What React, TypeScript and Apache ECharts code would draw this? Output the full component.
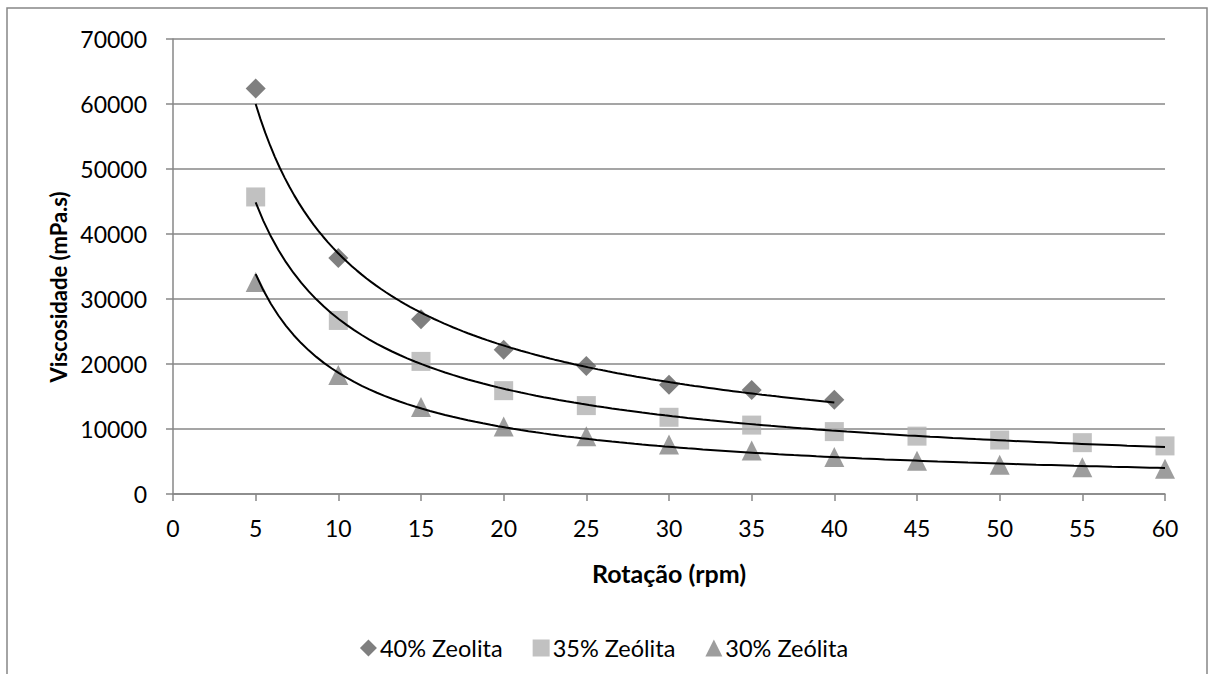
import React, { useEffect, useRef } from "react";
import * as echarts from "echarts";

const rpm = [5, 10, 15, 20, 25, 30, 35, 40, 45, 50, 55, 60];
const zeo40 = [62400, 36300, 26900, 22200, 19700, 16800, 16000, 14500];
const zeo35 = [45700, 26700, 20400, 15900, 13600, 11800, 10600, 9600, 8900, 8300, 7900, 7400];
const zeo30 = [32600, 18300, 13400, 10400, 8900, 7600, 6700, 5700, 5100, 4500, 4100, 3900];
const seriesNames = ["40% Zeolita", "35% Zeólita", "30% Zeólita"];
const xTitle = "Rotação (rpm)";
const yTitle = "Viscosidade (mPa.s)";

// power-law trendline (least squares on log-log), like the spreadsheet's trendline
function powerFit(xs: number[], ys: number[]) {
  const n = ys.length;
  const lx = xs.slice(0, n).map(Math.log);
  const ly = ys.map(Math.log);
  const mx = lx.reduce((a, b) => a + b, 0) / n;
  const my = ly.reduce((a, b) => a + b, 0) / n;
  let sxy = 0, sxx = 0;
  for (let i = 0; i < n; i++) {
    sxy += (lx[i] - mx) * (ly[i] - my);
    sxx += (lx[i] - mx) * (lx[i] - mx);
  }
  const b = sxy / sxx;
  const a = Math.exp(my - b * mx);
  const x0 = xs[0], x1 = xs[n - 1];
  const pts: number[][] = [];
  const steps = 120;
  for (let i = 0; i <= steps; i++) {
    const x = x0 + ((x1 - x0) * i) / steps;
    pts.push([x, a * Math.pow(x, b)]);
  }
  return pts;
}

const FONT = "Lato";

export default function App() {
  const ref = useRef<HTMLDivElement>(null);
  useEffect(() => {
    if (!ref.current) return;
    const chart = echarts.init(ref.current, undefined, { renderer: "svg" });
    const pair = (vals: number[]) => vals.map((v, i) => [rpm[i], v]);
    const trend = (vals: number[]) => ({
      type: "line",
      data: powerFit(rpm, vals),
      showSymbol: false,
      symbol: "none",
      smooth: false,
      lineStyle: { color: "#000", width: 2 },
      silent: true,
      z: 3,
    });
    chart.setOption({
      animation: false,
      backgroundColor: "#fff",
      textStyle: { fontFamily: FONT },
      grid: { left: 173, right: 43, top: 39, bottom: 180 },
      xAxis: {
        type: "value",
        min: 0,
        max: 60,
        interval: 5,
        axisLine: { show: true, lineStyle: { color: "#878787", width: 1.5 } },
        axisTick: { show: true, inside: false, length: 7, lineStyle: { color: "#878787", width: 1.5 } },
        splitLine: { show: false },
        axisLabel: { color: "#000", fontSize: 23, fontFamily: FONT, margin: 22, formatter: (v: number) => String(v) },
      },
      yAxis: {
        type: "value",
        min: 0,
        max: 70000,
        interval: 10000,
        axisLine: { show: true, lineStyle: { color: "#878787", width: 1.5 } },
        axisTick: { show: true, inside: false, length: 7, lineStyle: { color: "#878787", width: 1.5 } },
        splitLine: { show: true, lineStyle: { color: "#878787", width: 1.5 } },
        axisLabel: { color: "#000", fontSize: 23, fontFamily: FONT, margin: 26, formatter: (v: number) => String(v) },
      },
      legend: {
        data: seriesNames,
        left: "center",
        top: 631,
        itemWidth: 17,
        itemHeight: 17,
        itemGap: 30,
        textStyle: { color: "#000", fontSize: 23.5, fontFamily: FONT, padding: [0, 0, 0, -2] },
      },
      graphic: [
        {
          type: "rect",
          shape: { x: 7, y: 8, width: 1200, height: 720 },
          style: { fill: "none", stroke: "#878787", lineWidth: 1.5 },
          silent: true,
        },
        {
          type: "text",
          x: 58,
          y: 287,
          rotation: Math.PI / 2,
          style: {
            text: yTitle,
            fontSize: 22,
            fontWeight: "bold",
            fontFamily: FONT,
            fill: "#000",
            align: "center",
            verticalAlign: "middle",
          },
        },
        {
          type: "text",
          x: 669,
          y: 573,
          style: {
            text: xTitle,
            fontSize: 25,
            fontWeight: "bold",
            fontFamily: FONT,
            fill: "#000",
            align: "center",
            verticalAlign: "middle",
          },
        },
      ],
      series: [
        trend(zeo40),
        trend(zeo35),
        trend(zeo30),
        {
          name: seriesNames[0],
          type: "scatter",
          symbol: "diamond",
          symbolSize: 20,
          itemStyle: { color: "#5f5f5f" },
          data: pair(zeo40),
          z: 2,
        },
        {
          name: seriesNames[1],
          type: "scatter",
          symbol: "rect",
          symbolSize: 19,
          itemStyle: { color: "#b2b2b2" },
          data: pair(zeo35),
          z: 2,
        },
        {
          name: seriesNames[2],
          type: "scatter",
          symbol: "triangle",
          symbolSize: 20,
          itemStyle: { color: "#858585" },
          data: pair(zeo30),
          z: 2,
        },
      ],
    });
    return () => chart.dispose();
  }, []);
  return (
    <div
      ref={ref}
      style={{ position: "absolute", left: 0, top: 0, width: 1208, height: 674 }}
    />
  );
}
